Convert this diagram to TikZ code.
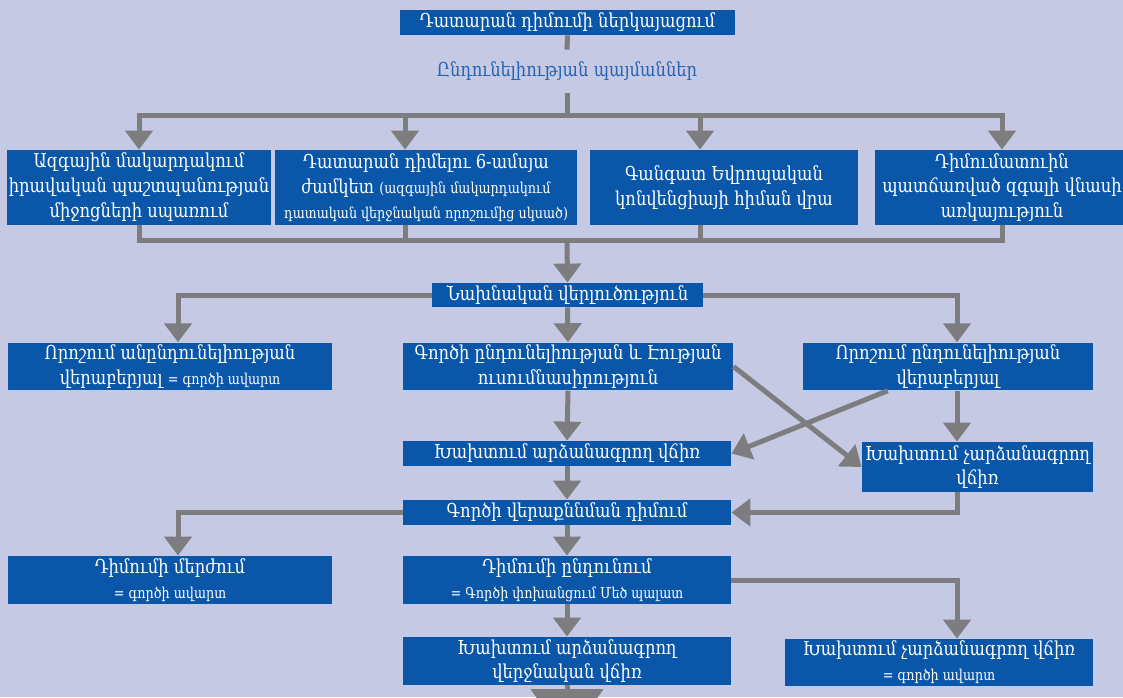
\documentclass[tikz,border=0pt]{standalone}
\usepackage{fontspec}
\setmainfont{DejaVu Serif}[FakeStretch=0.85]
\usepackage{xcolor}
\definecolor{bgpage}{HTML}{C5C9E4}
\definecolor{boxblue}{HTML}{0A57AA}
\definecolor{arrgray}{HTML}{7D7D80}
\definecolor{condblue}{HTML}{2563B3}
\usepackage{tikz}
\usetikzlibrary{arrows.meta}
\newcommand{\smtxt}[1]{{\fontsize{7.5}{9}\selectfont #1}}

\begin{document}
\begin{tikzpicture}[
  x=0.5pt,y=-0.5pt,
  font=\fontsize{9.6}{12.4}\selectfont,
  blk/.style={fill=boxblue,text=white,align=center,inner sep=1pt},
  ln/.style={draw=arrgray,line width=2.5pt},
  arr/.style={ln,-{Triangle[width=13.5pt,length=9.5pt]}},
  bigarr/.style={ln,-{Triangle[width=36pt,length=26pt]}},
]
\useasboundingbox (0,0) rectangle (1123,697);
\fill[bgpage] (0,0) rectangle (1123,697);

% submission
\node[blk,minimum width=167.5pt,minimum height=12.5pt] (sub) at (567.5,22.5) {Դատարան դիմումի ներկայացում};
\node[text=condblue,minimum height=21.5pt,inner sep=0pt] (cond) at (567,71.5) {Ընդունելիության պայմաններ};

% admissibility conditions
\node[blk,minimum width=129pt,minimum height=37.5pt] (a1) at (139,187.5) {Ազգային մակարդակում\\իրավական պաշտպանության\\միջոցների սպառում};
\node[blk,minimum width=151pt,minimum height=37.5pt] (a2) at (426,187.5) {Դատարան դիմելու 6-ամսյա\\ժամկետ \smtxt{(ազգային մակարդակում}\\\smtxt{դատական վերջնական որոշումից սկսած)}};
\node[blk,minimum width=134pt,minimum height=37.5pt] (a3) at (724,187.5) {Գանգատ Եվրոպական\\կոնվենցիայի հիման վրա};
\node[blk,minimum width=127.5pt,minimum height=37.5pt] (a4) at (1002,187.5) {Դիմումատուին\\պատճառված զգալի վնասի\\առկայություն};

% preliminary review
\node[blk,minimum width=135.5pt,minimum height=12pt] (nx) at (567.5,295) {Նախնական վերլուծություն};

\node[blk,minimum width=162pt,minimum height=23.5pt] (e1) at (170,366.5) {Որոշում անընդունելիության\\վերաբերյալ \smtxt{= գործի ավարտ}};
\node[blk,minimum width=165pt,minimum height=23.5pt] (f) at (568,366.5) {Գործի ընդունելիության և Էության\\ուսումնասիրություն};
\node[blk,minimum width=145pt,minimum height=23.5pt] (g) at (948,366.5) {Որոշում ընդունելիության\\վերաբերյալ};

% judgments
\node[blk,minimum width=164pt,minimum height=12.5pt] (h) at (567,453.5) {Խախտում արձանագրող վճիռ};
\node[blk,minimum width=115.5pt,minimum height=25pt] (i) at (977.5,467) {Խախտում չարձանագրող\\վճիռ};
\node[blk,minimum width=164pt,minimum height=12.5pt] (j) at (567,512.5) {Գործի վերաքննման դիմում};

% referral request outcome
\node[blk,minimum width=162pt,minimum height=24pt] (k) at (170,580) {Դիմումի մերժում\\\smtxt{= գործի ավարտ}};
\node[blk,minimum width=164pt,minimum height=24pt] (l) at (567,580) {Դիմումի ընդունում\\\smtxt{= Գործի փոխանցում Մեծ պալատ}};
\node[blk,minimum width=164pt,minimum height=24pt] (m) at (567,661) {Խախտում արձանագրող\\վերջնական վճիռ};
\node[blk,minimum width=154pt,minimum height=23.5pt] (n) at (939,662.5) {Խախտում չարձանագրող վճիռ\\\smtxt{= գործի ավարտ}};

% bus points and columns
\coordinate (bus1) at (567,115);
\coordinate (bus2) at (567,240);
\coordinate (b2) at (405,115);
\coordinate (b3) at (700,115);
\coordinate (lcol) at (178,0);
\coordinate (rcol) at (957,0);
\coordinate (out) at (567,741);

% top part
\draw[ln] (sub.south) -- (cond.north);
\draw[ln] (cond.south) -- (bus1);
\draw[arr] (bus1) -| (a1.north);
\draw[arr] (bus1) -| (a4.north);
\draw[arr] (b2) -- (b2 |- a2.north);
\draw[arr] (b3) -- (b3 |- a3.north);
\draw[ln] (a1.south) |- (bus2);
\draw[ln] (a4.south) |- (bus2);
\draw[ln] (b2 |- a2.south) -- (b2 |- bus2);
\draw[ln] (b3 |- a3.south) -- (b3 |- bus2);
\draw[arr] (bus2) -- (nx.north);

% review branches
\draw[arr] (nx.west) -| (lcol |- e1.north);
\draw[arr] (nx.south) -- (f.north);
\draw[arr] (nx.east) -| (rcol |- g.north);
\draw[arr] (f.south) -- (h.north);
\draw[arr] (rcol |- g.south) -- (rcol |- i.north);
\draw[arr] (f.east) -- (i.west);
\draw[arr] (g) -- (h.east);

% referral
\draw[arr] (h.south) -- (j.north);
\draw[arr] (rcol |- i.south) |- (j.east);
\draw[arr] (j.west) -| (lcol |- k.north);
\draw[arr] (j.south) -- (l.north);
\draw[arr] (l.south) -- (m.north);
\draw[arr] (l.east) -| (rcol |- n.north);
\draw[bigarr] (m.south) -- (out);
\end{tikzpicture}
\end{document}
